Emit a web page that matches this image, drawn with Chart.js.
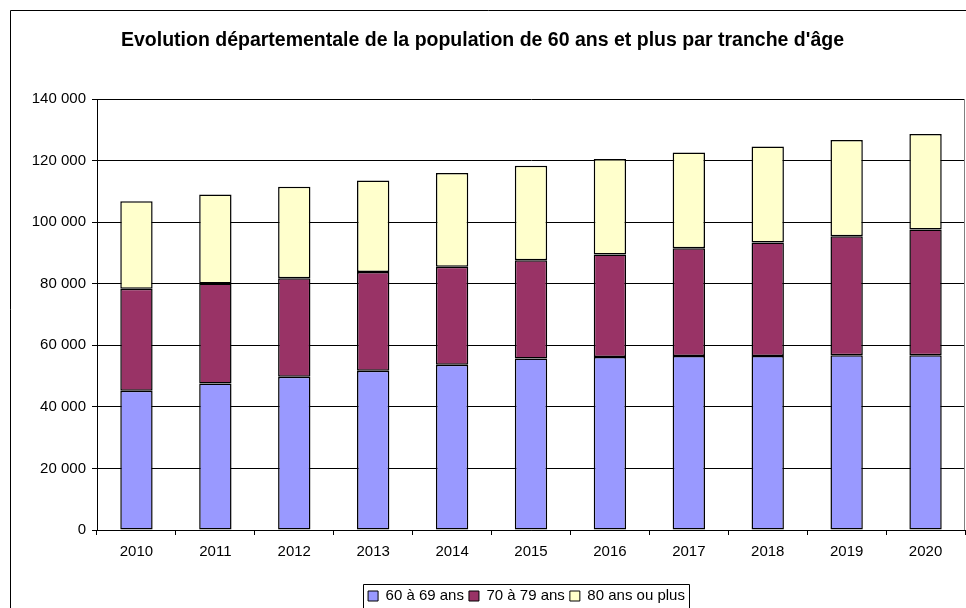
<!DOCTYPE html>
<html>
<head>
<meta charset="utf-8">
<script src="https://cdn.jsdelivr.net/npm/chart.js@4/dist/chart.umd.min.js"></script>
<style>
  html, body { margin: 0; padding: 0; background: #fff; }
  #wrap { width: 966px; height: 608px; }
</style>
</head>
<body>
<div id="wrap"><canvas id="c" width="966" height="608"></canvas></div>
<script>
const chartTitle = "Evolution départementale de la population de 60 ans et plus par tranche d'âge";
const years = ["2010", "2011", "2012", "2013", "2014", "2015", "2016", "2017", "2018", "2019", "2020"];
const seriesNames = ["60 à 69 ans", "70 à 79 ans", "80 ans ou plus"];
const age60to69 = [45200, 47600, 49800, 51700, 53700, 55700, 56200, 56500, 56500, 56800, 56800];
const age70to79 = [33200, 32500, 32000, 32100, 31800, 31900, 33300, 35000, 36900, 38600, 40800];
const age80plus = [28400, 28900, 29700, 29700, 30500, 30700, 31000, 31100, 31200, 31300, 31000];
const yTicks = [0, 20000, 40000, 60000, 80000, 100000, 120000, 140000];

const FONT = "'Liberation Sans', Arial, sans-serif";

const framePlugin = {
  id: 'frame',
  afterLayout(chart) {
    const lg = chart.legend;
    if (lg) {
      const dx = 44, dy = 13.5;
      lg.left += dx; lg.right += dx;
      lg.top += dy; lg.bottom += dy;
    }
  },
  beforeDraw(chart) {
    const ctx = chart.ctx;
    ctx.save();
    ctx.fillStyle = '#fff';
    ctx.fillRect(0, 0, chart.width, chart.height);
    ctx.strokeStyle = '#000';
    ctx.lineWidth = 1;
    ctx.beginPath();
    ctx.moveTo(10.5, chart.height + 2);
    ctx.lineTo(10.5, 10.5);
    ctx.lineTo(chart.width + 2, 10.5);
    ctx.stroke();
    ctx.restore();
  },
  afterDraw(chart) {
    const ctx = chart.ctx;
    const a = chart.chartArea;
    ctx.save();
    ctx.strokeStyle = '#808080';
    ctx.lineWidth = 1;
    ctx.beginPath();
    ctx.moveTo(Math.round(a.right) - 0.5, a.top);
    ctx.lineTo(Math.round(a.right) - 0.5, a.bottom);
    ctx.stroke();
    const lg = chart.legend;
    if (lg && lg.legendHitBoxes && lg.legendHitBoxes.length) {
      const hb = lg.legendHitBoxes;
      let l = Infinity, r = -Infinity, t = Infinity;
      hb.forEach(h => { l = Math.min(l, h.left); r = Math.max(r, h.left + h.width); t = Math.min(t, h.top); });
      ctx.strokeStyle = '#000';
      ctx.beginPath();
      ctx.rect(Math.round(l - 5) + 0.5, Math.round(t - 5) + 0.5, Math.round(r - l + 9), 60);
      ctx.stroke();
    }
    ctx.restore();
  }
};

const colors = ['#9999FF', '#993366', '#FFFFCC'];
const values = [age60to69, age70to79, age80plus];

new Chart(document.getElementById('c'), {
  type: 'bar',
  data: {
    labels: years,
    datasets: seriesNames.map((name, i) => ({
      label: name,
      data: values[i],
      backgroundColor: colors[i],
      borderColor: '#000',
      borderWidth: 1.5,
      borderSkipped: false,
      categoryPercentage: 1,
      barPercentage: 0.41
    }))
  },
  options: {
    responsive: false,
    animation: false,
    devicePixelRatio: 1,
    layout: { padding: { top: 0, left: 0, right: 1, bottom: 8 } },
    plugins: {
      title: {
        display: true,
        text: chartTitle,
        color: '#000',
        font: { family: FONT, size: 19.5, weight: 'bold' },
        padding: { top: 28.5, bottom: 47.1 }
      },
      legend: {
        display: true,
        position: 'bottom',
        labels: {
          color: '#000',
          font: { family: FONT, size: 15 },
          boxWidth: 10,
          boxHeight: 10,
          padding: 5,
          generateLabels(chart) {
            return chart.data.datasets.map((ds, i) => ({
              text: ds.label,
              fillStyle: ds.backgroundColor,
              strokeStyle: '#000',
              lineWidth: 1,
              hidden: false,
              datasetIndex: i,
              fontColor: '#000'
            }));
          }
        }
      },
      tooltip: { enabled: false }
    },
    scales: {
      x: {
        stacked: true,
        afterFit(s) { s.height = 40; },
        grid: { display: true, drawOnChartArea: false, drawTicks: true, tickLength: 5, color: '#000', offset: true },
        border: { display: true, color: '#000', width: 1 },
        ticks: { color: '#000', font: { family: FONT, size: 15 }, padding: 8, maxRotation: 0 }
      },
      y: {
        stacked: true,
        min: 0,
        max: 140000,
        afterFit(s) { s.width = 97; },
        afterBuildTicks(s) { s.ticks = yTicks.map(v => ({ value: v })); },
        grid: { display: true, drawOnChartArea: true, drawTicks: true, tickLength: 5, color: '#000' },
        border: { display: true, color: '#000', width: 1 },
        ticks: {
          color: '#000',
          font: { family: FONT, size: 15 },
          padding: 6,
          callback: (v) => String(v).replace(/\B(?=(\d{3})+(?!\d))/g, ' ')
        }
      }
    }
  },
  plugins: [framePlugin]
});
</script>
</body>
</html>
